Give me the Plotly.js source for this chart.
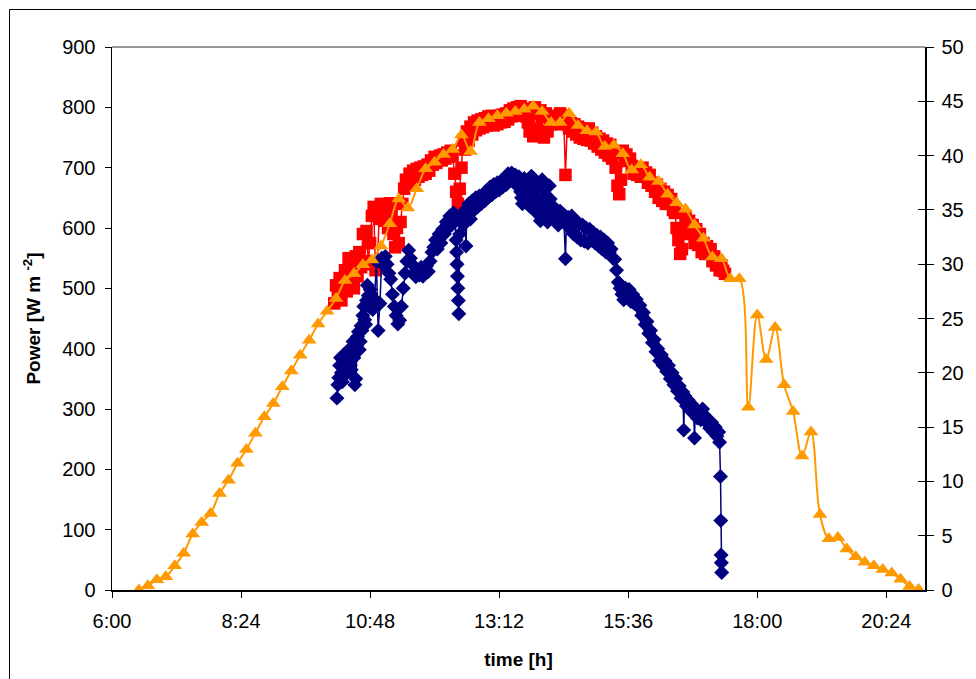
<!DOCTYPE html>
<html><head><meta charset="utf-8">
<script src="https://cdn.plot.ly/plotly-3.0.1.min.js"></script>
<style>html,body{margin:0;padding:0;background:#fff;}#chart{width:976px;height:679px;}</style>
</head><body><div id="chart"></div>
<script>
// ---- tick labels ----
const xTickLabels = ['6:00','8:24','10:48','13:12','15:36','18:00','20:24'];
const leftTicks = [0,100,200,300,400,500,600,700,800,900];
const rightTicks = [0,5,10,15,20,25,30,35,40,45,50];

// ---- orange series (10-min values, W m-2) ----
const orangeTimes = [
'6:30','6:40','6:50','7:00','7:10','7:20','7:30','7:40','7:50','8:00',
'8:10','8:20','8:30','8:40','8:50','9:00','9:10','9:20','9:30','9:40',
'9:50','10:00','10:10','10:20','10:30','10:40','10:50','11:00','11:10','11:20',
'11:30','11:40','11:50','12:00','12:10','12:20','12:30','12:40','12:50','13:00',
'13:10','13:20','13:30','13:40','13:50','14:00','14:10','14:20','14:30','14:40',
'14:50','15:00','15:10','15:20','15:30','15:40','15:50','16:00','16:10','16:20',
'16:30','16:40','16:50','17:00','17:10','17:20','17:30','17:40','17:50','18:00',
'18:10','18:20','18:30','18:40','18:50','19:00','19:10','19:20','19:30','19:40',
'19:50','20:00','20:10','20:20','20:30','20:40','20:50','21:00'];
const orangeValues = [
0,7,17,22,40,61,93,112,127,160,
182,210,233,260,287,309,337,363,389,414,
441,462,483,513,524,539,547,570,607,648,
633,665,698,709,722,730,754,727,775,781,
786,790,793,797,802,793,775,775,790,770,
761,759,735,737,723,696,705,684,677,656,
642,631,605,583,552,549,516,516,303,456,
382,435,340,296,222,262,125,85,87,68,
55,46,40,34,28,18,6,1];

// ---- red series (W m-2) ----
const redTimes = [
'10:08','10:10','10:12','10:14','10:16','10:18','10:20','10:22','10:24','10:26',
'10:28','10:30','10:32','10:34','10:36','10:38','10:40','10:42','10:44','10:46',
'10:48','10:50','10:52','10:54','10:56','10:58','11:00','11:02','11:04','11:06',
'11:08','11:10','11:12','11:14','11:16','11:18','11:20','11:22','11:24','11:26',
'11:28','11:30','11:32','11:34','11:36','11:38','11:40','11:42','11:44','11:46',
'11:48','11:50','11:52','11:54','11:56','11:58','12:00','12:02','12:04','12:06',
'12:08','12:10','12:12','12:14','12:16','12:18','12:20','12:22','12:24','12:26',
'12:28','12:30','12:32','12:34','12:36','12:38','12:40','12:42','12:44','12:46',
'12:48','12:50','12:52','12:54','12:56','12:58','13:00','13:02','13:04','13:06',
'13:08','13:10','13:12','13:14','13:16','13:18','13:20','13:22','13:24','13:26',
'13:28','13:30','13:32','13:34','13:36','13:38','13:40','13:42','13:44','13:46',
'13:48','13:50','13:52','13:54','13:56','13:58','14:00','14:02','14:04','14:06',
'14:08','14:10','14:12','14:14','14:16','14:18','14:20','14:22','14:24','14:26',
'14:28','14:30','14:32','14:34','14:36','14:38','14:40','14:42','14:44','14:46',
'14:48','14:50','14:52','14:54','14:56','14:58','15:00','15:02','15:04','15:06',
'15:08','15:10','15:12','15:14','15:16','15:18','15:20','15:22','15:24','15:26',
'15:28','15:30','15:32','15:34','15:36','15:38','15:40','15:42','15:44','15:46',
'15:48','15:50','15:52','15:54','15:56','15:58','16:00','16:02','16:04','16:06',
'16:08','16:10','16:12','16:14','16:16','16:18','16:20','16:22','16:24','16:26',
'16:28','16:30','16:32','16:34','16:36','16:38','16:40','16:42','16:44','16:46',
'16:48','16:50','16:52','16:54','16:56','16:58','17:00','17:02','17:04','17:06',
'17:08','17:10','17:12','17:14','17:16','17:18','17:20','17:22','17:24'];
const redValues = [
475,505,490,517,480,510,530,495,550,505,
545,500,553,520,560,535,590,545,595,540,
575,620,635,530,537,615,640,625,612,638,
600,641,620,590,568,600,575,610,640,665,
680,673,690,675,695,680,698,685,700,688,
702,690,705,695,712,705,718,708,715,720,
712,722,715,725,718,728,720,690,660,640,
665,700,745,730,760,745,768,755,775,762,
778,765,780,767,782,770,785,772,786,770,
784,772,786,775,788,776,790,780,795,785,
798,786,800,788,802,790,798,785,775,760,
790,752,800,765,755,795,784,750,790,760,
785,772,786,774,784,772,790,776,786,688,
772,765,774,760,772,755,768,750,765,748,
762,746,765,745,758,740,752,735,748,730,
745,725,740,720,738,715,725,700,670,656,
680,728,712,722,711,715,703,690,700,688,
698,685,700,686,692,675,688,670,675,660,
672,650,665,645,660,640,655,640,648,630,
625,600,580,557,565,590,620,598,612,595,
605,575,598,572,590,560,575,557,570,558,
565,545,553,538,545,530,538,529,524];

// ---- blue series (values on the left-axis scale) ----
const blueTimes = [
'10:11','10:12','10:13','10:14','10:15','10:16','10:17','10:18','10:19','10:20',
'10:21','10:22','10:23','10:24','10:25','10:26','10:27','10:28','10:29','10:30',
'10:31','10:32','10:33','10:34','10:35','10:36','10:37','10:38','10:39','10:40',
'10:41','10:42','10:43','10:44','10:45','10:46','10:47','10:48','10:49','10:50',
'10:51','10:53','10:55','10:57','10:59','11:01','11:03','11:05','11:07','11:09',
'11:11','11:13','11:15','11:17','11:19','11:21','11:23','11:25','11:27','11:29',
'11:31','11:33','11:35','11:37','11:39','11:41','11:43','11:45','11:47','11:49',
'11:51','11:53','11:55','11:57','11:59','12:01','12:03','12:05','12:07','12:09',
'12:11','12:13','12:15','12:17','12:19','12:21','12:23','12:24','12:24:30','12:25',
'12:25:30','12:26','12:26:30','12:27','12:28','12:30','12:32','12:34','12:35','12:36',
'12:38','12:40','12:42','12:44','12:46','12:48','12:50','12:52','12:54','12:56',
'12:58','13:00','13:02','13:04','13:06','13:08','13:10','13:12','13:14','13:16',
'13:18','13:20','13:22','13:24','13:26','13:28','13:30','13:32','13:34','13:36',
'13:37','13:38','13:39','13:40','13:41','13:42','13:43','13:44','13:45','13:46',
'13:47','13:48','13:49','13:50','13:51','13:52','13:53','13:54','13:55','13:56',
'13:57','13:58','13:59','14:00','14:01','14:02','14:03','14:04','14:05','14:06',
'14:07','14:08','14:09','14:10','14:12','14:14','14:16','14:18','14:20','14:22',
'14:24','14:26','14:27','14:29','14:31','14:33','14:35','14:37','14:39','14:41',
'14:43','14:45','14:47','14:49','14:51','14:53','14:55','14:57','14:59','15:01',
'15:03','15:05','15:07','15:09','15:11','15:13','15:15','15:17','15:19','15:21',
'15:23','15:25','15:27','15:29','15:31','15:33','15:35','15:37','15:39','15:41',
'15:43','15:45','15:47','15:49','15:51','15:53','15:55','15:57','15:59','16:01',
'16:03','16:05','16:07','16:09','16:11','16:13','16:15','16:17','16:19','16:21',
'16:23','16:25','16:27','16:29','16:31','16:33','16:35','16:37','16:38','16:39',
'16:41','16:43','16:45','16:47','16:49','16:50','16:51','16:53','16:55','16:57',
'16:59','17:01','17:03','17:05','17:07','17:09','17:11','17:13','17:15','17:17',
'17:18','17:19','17:19:20','17:19:40','17:20','17:20:20'];
const blueValues = [
318,340,352,372,385,360,345,375,390,368,
358,385,378,398,392,372,365,400,412,385,
340,350,405,420,428,398,412,438,430,455,
470,448,440,480,505,488,470,498,490,475,
465,482,545,430,475,550,538,553,540,525,
515,490,470,455,441,447,470,500,525,545,
563,550,540,525,519,530,522,535,520,530,
537,528,545,560,568,580,565,590,575,598,
590,610,600,620,605,625,612,580,560,540,
520,500,480,458,590,620,605,630,570,625,
640,615,645,630,650,635,653,640,655,645,
662,651,668,655,672,660,675,663,678,668,
683,672,690,678,691,680,688,670,685,660,
650,640,665,682,668,650,662,675,655,636,
662,686,672,660,668,675,650,625,645,668,
640,612,645,680,650,620,638,655,632,610,
640,670,648,625,636,612,630,605,628,615,
622,549,605,618,600,620,590,612,585,608,
580,605,578,600,575,598,580,592,575,588,
570,585,565,580,560,575,560,565,550,548,
530,510,500,490,481,500,485,498,478,490,
475,482,470,472,455,460,440,445,425,430,
410,415,395,400,380,390,372,380,362,372,
350,360,340,350,330,338,318,328,265,322,
305,315,298,308,292,252,300,285,295,282,
300,290,282,275,268,278,262,270,255,262,
245,188,115,58,45,29];

function toDate(t){
  const p = t.split(':');
  const hh = p[0].length < 2 ? '0' + p[0] : p[0];
  return '2000-01-01 ' + hh + ':' + p[1] + ':' + (p[2] || '00');
}

const FONT = 'Liberation Sans, Arial, Helvetica, sans-serif';

const traces = [
  {x: redTimes.map(toDate), y: redValues, type:'scatter', mode:'lines+markers',
   line:{color:'#FF0000', width:1.5}, marker:{symbol:'square', size:12.5, color:'#FF0000'},
   showlegend:false, hoverinfo:'skip'},
  {x: blueTimes.map(toDate), y: blueValues, type:'scatter', mode:'lines+markers',
   line:{color:'#000080', width:1.5}, marker:{symbol:'diamond', size:11.5, color:'#000080'},
   showlegend:false, hoverinfo:'skip'},
  {x: orangeTimes.map(toDate), y: orangeValues, type:'scatter', mode:'lines+markers',
   line:{color:'#FF9900', width:2, shape:'spline', smoothing:1},
   marker:{symbol:'triangle-up', size:13, color:'#FF9900'},
   showlegend:false, hoverinfo:'skip'},
  {x:[null], y:[null], yaxis:'y2', type:'scatter', mode:'markers', showlegend:false, hoverinfo:'skip'},
  {x:[null], y:[null], yaxis:'y3', type:'scatter', mode:'markers', showlegend:false, hoverinfo:'skip'}
];

const plotL = 112, plotR = 925, plotT = 47, plotB = 590;
const pw = plotR - plotL, ph = plotB - plotT;

const layout = {
  width:976, height:679,
  margin:{l:plotL, r:976-plotR, t:plotT, b:679-plotB, pad:0},
  paper_bgcolor:'#fff', plot_bgcolor:'#fff',
  font:{family:FONT, color:'#000', size:20},
  showlegend:false,
  xaxis:{
    type:'date', range:[toDate('6:00'), toDate('21:07:12')],
    tickmode:'array', tickvals:xTickLabels.map(toDate), ticktext:xTickLabels,
    ticks:'outside', ticklen:6, tickwidth:1, tickcolor:'#000',
    showline:true, linecolor:'#000', linewidth:1.5,
    showgrid:false, zeroline:false, automargin:false,
    tickfont:{family:FONT, size:20, color:'#000'}, ticklabelstandoff:6,
    title:{text:'<b>time [h]</b>', font:{family:FONT, size:19, color:'#000'}, standoff:22}
  },
  yaxis:{
    range:[0,900], tickmode:'array', tickvals:leftTicks, ticktext:leftTicks.map(String),
    ticks:'outside', ticklen:6, tickwidth:1, tickcolor:'#000',
    showline:true, linecolor:'#000', linewidth:1.5,
    showgrid:false, zeroline:false, automargin:false,
    tickfont:{family:FONT, size:20, color:'#000'}, ticklabelstandoff:5,
    title:{text:'<b>Power [W m <sup>-2</sup>]</b>', font:{family:FONT, size:19, color:'#000'}, standoff:16}
  },
  yaxis2:{
    overlaying:'y', side:'right', range:[0,50],
    tickmode:'array', tickvals:rightTicks, ticktext:rightTicks.map(String),
    ticks:'outside', ticklen:7, tickwidth:1, tickcolor:'#000',
    showline:true, linecolor:'#000', linewidth:1.5,
    showgrid:false, zeroline:false, automargin:false,
    tickfont:{family:FONT, size:20, color:'#000'}, ticklabelstandoff:4
  },
  yaxis3:{
    overlaying:'y', side:'right', range:[0,50],
    tickmode:'array', tickvals:rightTicks,
    ticks:'inside', ticklen:7, tickwidth:1, tickcolor:'#000',
    showline:false, showticklabels:false,
    showgrid:false, zeroline:false, automargin:false
  },
  shapes:[
    {type:'line', xref:'paper', yref:'paper', x0:0, x1:1, y0:1, y1:1,
     line:{color:'#9a9a9a', width:2}},
    {type:'rect', xref:'paper', yref:'paper',
     x0:(9.5-plotL)/pw, x1:(990-plotL)/pw, y0:-(700-plotB)/ph, y1:1+(plotT-9.5)/ph,
     line:{color:'#000', width:1}, fillcolor:'rgba(0,0,0,0)'}
  ]
};

Plotly.newPlot('chart', traces, layout, {staticPlot:true, displayModeBar:false});
</script>
</body></html>
